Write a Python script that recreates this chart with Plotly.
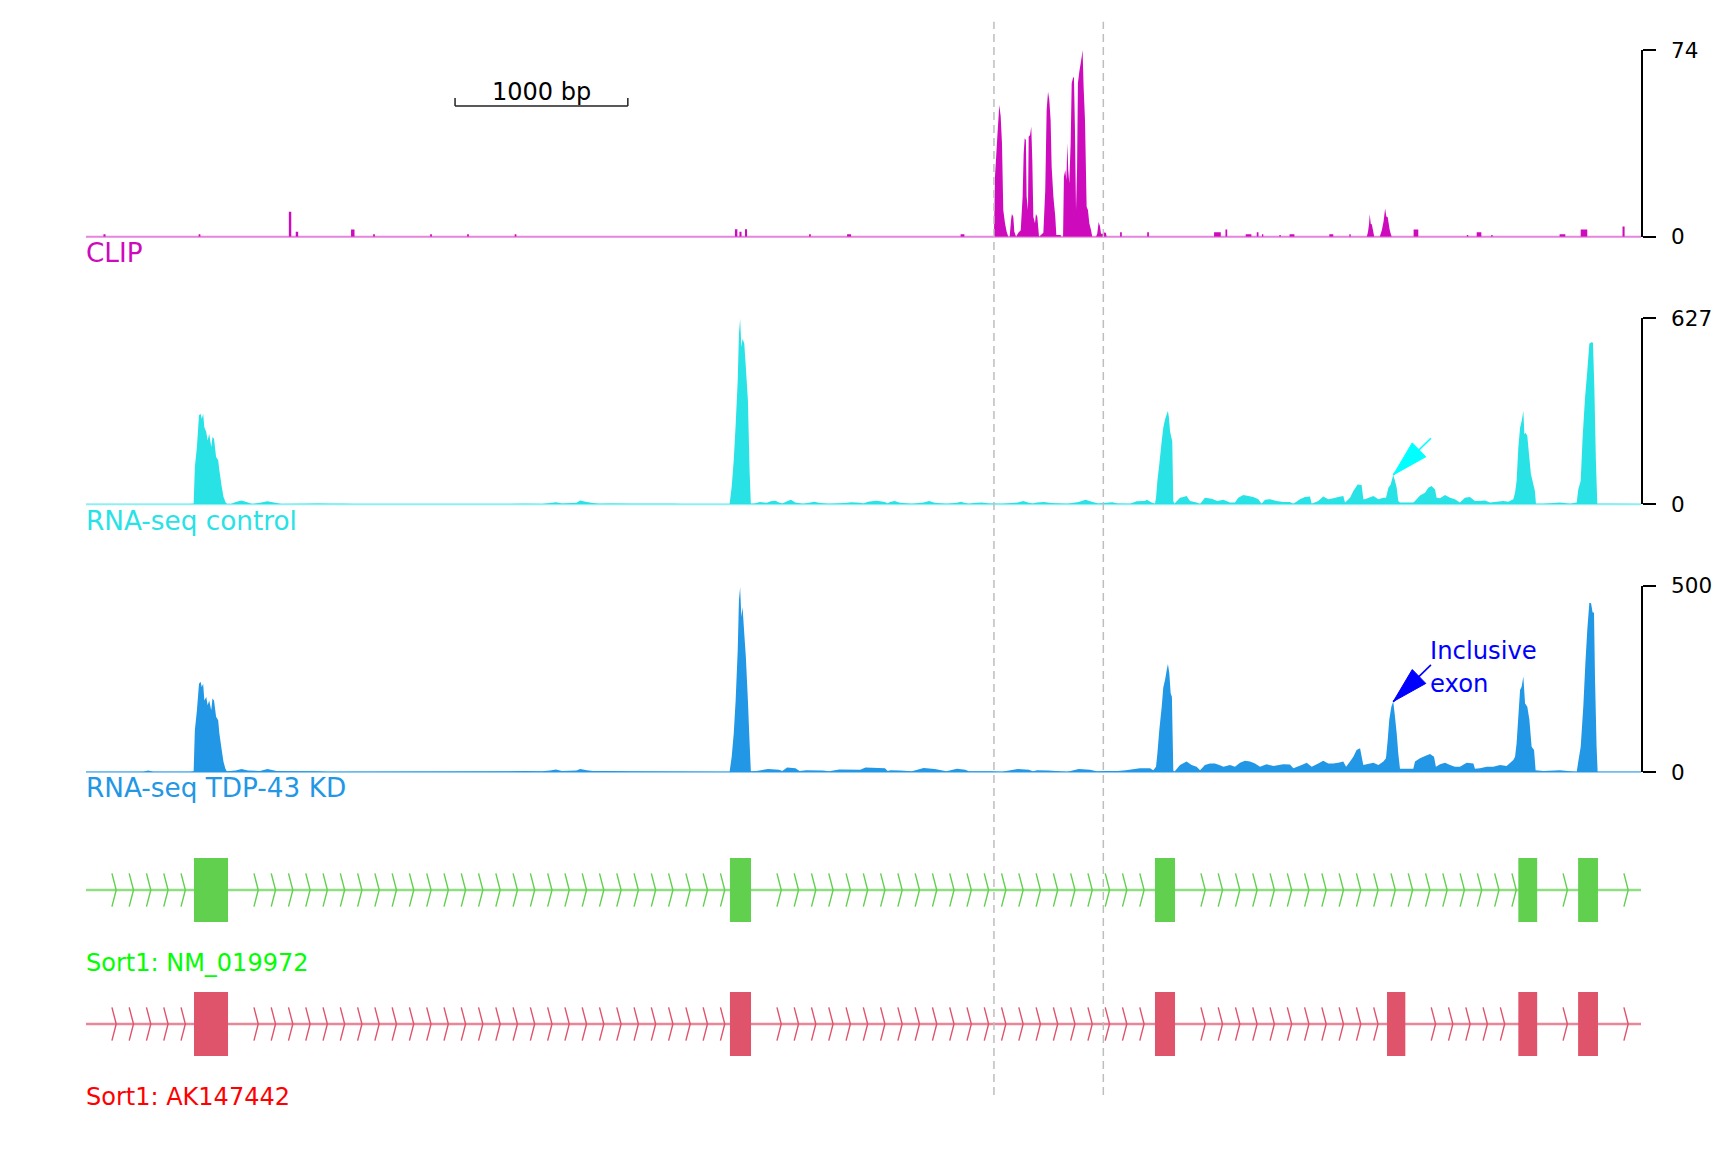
import math
import plotly.graph_objects as go

FONT = "DejaVu Sans"

# ---------------- data: genomic offset (bp) within the viewed window ----------------
region_start, region_end = 0, 9000

# CLIP: isolated small read stacks (start bp, end bp, coverage)
clip_blocks = [
    (101, 113, 1), (652, 662, 1), (1174, 1188, 9.9), (1214, 1228, 2), (1534, 1554, 2.9),
    (1662, 1672, 1), (1992, 2002, 1), (2206, 2216, 1), (2481, 2491, 1), (3756, 3770, 3),
    (3782, 3794, 2), (3814, 3826, 3), (4185, 4195, 1), (4405, 4428, 1), (5062, 5084, 1),
    (5985, 5995, 1.8), (6142, 6152, 1.8), (6529, 6568, 1.8), (6595, 6605, 2.9),
    (6712, 6745, 1), (6776, 6786, 1.8), (6806, 6814, 1), (6907, 6915, 0.7), (6966, 6994, 1),
    (7196, 7219, 1), (7312, 7320, 1), (7684, 7711, 2.9), (7992, 8000, 0.7), (8049, 8076, 1.8),
    (8133, 8141, 0.7), (8529, 8562, 1), (8651, 8689, 2.9), (8893, 8905, 4),
]
# CLIP: peak profiles (bp, coverage)
clip_peaks = [
    (5255, 0), (5261, 23.8), (5274.5, 39.6), (5286, 52.2), (5294, 47.6), (5301.5, 37),
    (5309, 10.6), (5319, 5.3), (5328.5, 2.0), (5338, 0),
    (5346, 0), (5354, 6.6), (5359, 9.0), (5367, 7.9), (5373, 2.0), (5383, 0),
    (5396, 1.6), (5410, 2.6), (5421, 15.9), (5427, 33), (5433, 39), (5440, 38.3), (5444, 15.9),
    (5452, 10.6), (5456, 39.6), (5464, 40.3), (5471, 43.6), (5477, 30.4), (5483, 7.9),
    (5492.5, 5.3), (5498, 9.0), (5506, 7.9), (5516, 0),
    (5541, 1.6), (5552, 18.5), (5560, 50.2), (5568, 57.5), (5575.5, 54.2), (5583, 46.2),
    (5589, 27.7), (5599, 15.9), (5610, 7.9), (5616, 0.7), (5641, 0.7), (5643, 0),
    (5655, 0), (5660, 23.8), (5668, 26.4), (5674, 22.5), (5680, 37), (5685, 26.4), (5691, 21.1),
    (5699, 37), (5705, 60.8), (5712, 62.8), (5718, 63.4), (5724, 42.3), (5730, 10.6),
    (5736, 26.4), (5741, 60.8), (5749, 65.4), (5757, 68.7), (5763, 71.3), (5768, 74),
    (5774, 59.4), (5782, 46.2), (5791.5, 11.9), (5799, 10.6), (5807, 5.3), (5817, 2.6), (5824, 0),
    (5846, 0), (5853, 1.3), (5861, 5.8), (5869, 4.0), (5874.5, 1.3), (5882, 1.1), (5892, 1.7),
    (5903, 1.6), (5907, 0),
    (7413, 0), (7420, 2), (7426, 5), (7430, 8.9), (7436, 5), (7442, 4.9), (7450, 2.2), (7456, 0),
    (7488, 0), (7500, 2.6), (7510, 6), (7519, 11.2), (7526, 8), (7534, 7.7), (7545, 3),
    (7551, 1.3), (7557, 0),
]

# RNA-seq control coverage (bp, reads)
control_cov = [
    (0, 1), (600, 1), (623, 2), (630, 126), (642, 193), (654, 300), (663, 305), (670, 288),
    (678, 305), (685, 260), (696, 244), (704, 215), (713, 238), (725, 193), (732, 227),
    (741, 221), (753, 159), (765, 148), (772, 114), (786, 58), (796, 25), (807, 8), (815, 1),
    (840, 1), (866, 8), (900, 13), (938, 6), (960, 1), (1007, 5), (1050, 10), (1103, 4),
    (1130, 1), (1279, 2), (1340, 3), (1410, 2), (1480, 2), (1551, 1), (2448, 1), (2540, 2),
    (2639, 1), (2686, 4), (2720, 7), (2755, 3), (2839, 5), (2860, 13), (2898, 8), (2934, 4),
    (2969, 2), (3039, 3), (3158, 2), (3392, 2), (3441, 1), (3700, 1),
    (3725, 1), (3737, 58), (3749, 148), (3760, 266), (3772, 417), (3779, 574), (3786, 625),
    (3793, 530), (3800, 558), (3810, 541), (3819, 462), (3831, 350), (3841, 109), (3848, 2),
    (3870, 3), (3900, 8), (3940, 5), (3963, 10), (3990, 12), (4011, 6), (4030, 3), (4058, 10),
    (4080, 15), (4105, 6), (4150, 2), (4185, 5), (4215, 9), (4248, 4), (4300, 2), (4393, 4),
    (4430, 7), (4480, 5), (4500, 3), (4526, 9), (4575, 12), (4624, 8), (4640, 3), (4653, 8),
    (4680, 11), (4711, 5), (4780, 2), (4848, 6), (4880, 11), (4912, 5), (4980, 2), (5041, 5),
    (5064, 9), (5087, 4), (5110, 2), (5137, 4), (5185, 6), (5232, 3), (5300, 2), (5393, 6),
    (5425, 11), (5457, 5), (5480, 3), (5504, 6), (5545, 8), (5585, 4), (5680, 2), (5745, 8),
    (5785, 15), (5826, 8), (5860, 3), (5906, 5), (5940, 7), (5970, 3),
    (6042, 2), (6081, 10), (6129, 11), (6139, 15), (6168, 6), (6187, 2),
    (6193, 22), (6201, 79), (6212, 135), (6226, 213), (6235, 258), (6245, 286), (6255, 303),
    (6262, 314), (6268, 292), (6274, 247), (6282, 224), (6287, 213), (6293, 11), (6299, 2),
    (6332, 22), (6351, 25), (6370, 28), (6390, 11), (6428, 6), (6448, 1),
    (6476, 22), (6515, 19), (6548, 11), (6583, 15), (6621, 6), (6650, 6),
    (6669, 22), (6698, 31), (6727, 28), (6756, 25), (6785, 17), (6804, 2),
    (6824, 15), (6853, 17), (6891, 11), (6930, 8), (6968, 8), (6988, 2),
    (7026, 17), (7055, 25), (7084, 26), (7094, 2), (7132, 11), (7161, 26), (7190, 17),
    (7219, 20), (7248, 25), (7277, 28), (7287, 6),
    (7316, 22), (7335, 45), (7360, 67), (7383, 65), (7393, 17),
    (7402, 17), (7451, 28), (7480, 17), (7509, 22),
    (7524, 22), (7538, 56), (7551, 67), (7566, 99), (7576, 79), (7586, 56), (7595, 11), (7605, 6),
    (7644, 6), (7682, 6),
    (7692, 11), (7721, 30), (7750, 39), (7769, 56), (7788, 62), (7808, 50), (7817, 22),
    (7837, 20), (7866, 31), (7895, 22), (7923, 17),
    (7952, 6), (7981, 22), (8010, 25), (8039, 11), (8058, 11), (8097, 13), (8126, 6),
    (8165, 9), (8203, 11), (8232, 9), (8261, 17),
    (8271, 39), (8280, 79), (8290, 191), (8300, 258), (8309, 280), (8319, 314), (8325, 236),
    (8332, 241), (8342, 230), (8352, 168), (8363, 101), (8377, 67), (8386, 45), (8392, 2),
    (8435, 2), (8531, 6), (8589, 2),
    (8628, 6), (8637, 50), (8651, 79), (8662, 224), (8676, 359), (8689, 449), (8701, 541),
    (8712, 546), (8722, 544), (8730, 393), (8739, 146), (8747, 2),
    (8800, 2), (9000, 1),
]

# RNA-seq TDP-43 knock-down coverage (bp, reads)
kd_cov = [
    (0, 1), (330, 1), (360, 4), (390, 1), (600, 1),
    (623, 2), (630, 112), (642, 166), (654, 237), (663, 242), (670, 228), (678, 237), (685, 192),
    (696, 201), (704, 179), (713, 192), (725, 166), (732, 197), (741, 192), (753, 148),
    (765, 139), (772, 103), (786, 58), (796, 27), (807, 9), (815, 2),
    (866, 4), (900, 8), (938, 4), (1007, 3), (1050, 8), (1103, 3), (1340, 2), (1400, 1),
    (2448, 2), (2540, 3), (2639, 2), (2686, 4), (2720, 7), (2755, 3), (2839, 4), (2860, 8),
    (2898, 5), (2934, 3), (3039, 3), (3158, 2), (3700, 1),
    (3725, 1), (3737, 40), (3749, 103), (3760, 192), (3772, 327), (3779, 461), (3786, 496),
    (3793, 416), (3800, 443), (3810, 371), (3819, 309), (3831, 192), (3841, 76), (3848, 2),
    (3880, 3), (3947, 8), (4011, 6), (4030, 3), (4058, 12), (4106, 10), (4130, 3), (4169, 5),
    (4265, 4), (4300, 2), (4360, 7), (4481, 6), (4512, 12), (4624, 10), (4640, 3), (4656, 5),
    (4711, 4), (4780, 2), (4848, 11), (4912, 8), (4980, 2), (5041, 9), (5089, 6), (5110, 2),
    (5137, 2), (5233, 2), (5300, 1), (5393, 8), (5457, 6), (5480, 2), (5506, 5), (5570, 4),
    (5680, 1), (5746, 8), (5810, 6), (5850, 2), (5906, 3), (5970, 3), (6019, 5), (6100, 10),
    (6158, 10), (6177, 5),
    (6193, 14), (6201, 50), (6212, 113), (6226, 175), (6235, 227), (6245, 247), (6255, 274),
    (6262, 290), (6270, 265), (6278, 211), (6285, 202), (6293, 5), (6299, 1),
    (6332, 19), (6370, 28), (6399, 19), (6428, 14), (6448, 5),
    (6476, 19), (6505, 23), (6534, 23), (6563, 18), (6583, 14), (6621, 19), (6650, 14),
    (6679, 25), (6708, 30), (6737, 28), (6766, 23), (6795, 14), (6833, 21), (6872, 16),
    (6930, 21), (6968, 20), (6988, 10), (7036, 19), (7065, 25), (7094, 14),
    (7132, 23), (7161, 30), (7190, 23), (7219, 23), (7248, 25), (7277, 28), (7293, 14),
    (7316, 28), (7335, 41), (7354, 59), (7374, 64), (7387, 32), (7393, 19),
    (7412, 21), (7451, 25), (7480, 19), (7509, 28),
    (7524, 37), (7534, 86), (7543, 140), (7555, 175), (7566, 189), (7576, 149), (7586, 104),
    (7595, 50), (7605, 9), (7644, 9), (7682, 9),
    (7692, 28), (7721, 37), (7750, 43), (7779, 48), (7802, 41), (7813, 14),
    (7837, 21), (7866, 25), (7895, 19), (7923, 14), (7952, 14), (7991, 25), (8030, 23),
    (8039, 9), (8068, 10), (8107, 14), (8145, 14), (8184, 19), (8222, 16), (8261, 32),
    (8271, 41), (8280, 77), (8290, 149), (8300, 220), (8309, 229), (8319, 256), (8329, 184),
    (8342, 175), (8354, 140), (8367, 68), (8381, 59), (8390, 5),
    (8435, 3), (8531, 5), (8589, 2),
    (8628, 1), (8637, 28), (8651, 68), (8666, 175), (8678, 292), (8689, 381), (8701, 454),
    (8711, 453), (8720, 428), (8728, 428), (8734, 247), (8743, 68), (8749, 1),
    (8800, 1), (9000, 1),
]

track_names = ["CLIP", "RNA-seq control", "RNA-seq TDP-43 KD"]
track_max = [74, 627, 500]

# transcripts (exon start / end, bp)
nm_exon_start = [625, 3727, 6187, 8290, 8636]
nm_exon_end = [822, 3849, 6303, 8399, 8751]
ak_exon_start = [625, 3727, 6187, 7530, 8290, 8636]
ak_exon_end = [822, 3849, 6303, 7636, 8399, 8751]
gene_labels = ["Sort1: NM_019972", "Sort1: AK147442"]

highlight_region = [5255, 5888]
scalebar_start, scalebar_len = 2136, 1000
inclusive_exon = [7530, 7636]

# ---------------- styling / layout ----------------
W, H = 1728, 1152
X_LEFT, X_RIGHT = 86, 1641
track_colors = ["#CD0BBC", "#28E2E5", "#2297E6"]
track_base_alpha = ["rgba(205,11,188,0.5)", "rgba(40,226,229,0.5)", "rgba(34,151,230,0.5)"]
track_px = [(50.0, 236.7), (318.2, 504.3), (585.7, 772.0)]  # (top = max, bottom = 0)
label_px = [253, 520.5, 787.5]
gene_box_px = [(858, 922), (992, 1056)]
gene_label_px = [963, 1097]
gene_colors = ["#61D04F", "#DF536B"]
gene_line_colors = ["rgba(97,208,79,0.7)", "rgba(223,83,107,0.7)"]
gene_text_colors = ["#00FF00", "#FF0000"]
arrow_colors = ["#00FFFF", "#0000FF"]


def pyf(px):
    return 1 - px / H


def pxf(px):
    return px / W


def clip_vertices():
    pts = list(clip_peaks)
    for s, e, v in clip_blocks:
        pts += [(s, 0), (s, v), (e, v), (e, 0)]
    pts.sort(key=lambda p: p[0])
    return [(region_start, 0)] + pts + [(region_end, 0)]


coverages = [clip_vertices(), control_cov, kd_cov]

fig = go.Figure()
layout = dict(
    width=W, height=H, margin=dict(l=0, r=0, t=0, b=0, pad=0, autoexpand=False),
    paper_bgcolor="white", plot_bgcolor="white", showlegend=False,
    font=dict(family=FONT),
)
shapes, annotations = [], []
xdom = [pxf(X_LEFT), pxf(X_RIGHT)]

for i in range(3):
    ax = "" if i == 0 else str(i + 1)
    xs = [p[0] for p in coverages[i]]
    ys = [p[1] for p in coverages[i]]
    fig.add_trace(go.Scatter(x=xs, y=ys, mode="none", fill="tozeroy",
                             fillcolor=track_colors[i], xaxis="x" + ax, yaxis="y" + ax,
                             hoverinfo="skip"))
    top, bot = track_px[i]
    layout["xaxis" + ax] = dict(domain=xdom, range=[region_start, region_end], visible=False,
                                anchor="y" + ax, fixedrange=True, automargin=False)
    layout["yaxis" + ax] = dict(
        domain=[pyf(bot), pyf(top)], range=[0, track_max[i]], anchor="x" + ax, side="right",
        showline=True, linecolor="black", linewidth=1.5, ticks="outside", ticklen=13,
        tickwidth=1.5, tickcolor="black", tickvals=[0, track_max[i]],
        ticktext=["0", str(track_max[i])], tickfont=dict(family=FONT, size=21.5, color="black"),
        ticklabelstandoff=11, showgrid=False, zeroline=False, fixedrange=True, automargin=False)
    # baseline
    shapes.append(dict(type="line", xref="x" + ax, yref="paper", x0=region_start, x1=region_end,
                       y0=pyf(bot), y1=pyf(bot), line=dict(color=track_base_alpha[i], width=2),
                       layer="above"))
    annotations.append(dict(text=track_names[i], xref="paper", yref="paper", x=pxf(X_LEFT - 2),
                            y=pyf(label_px[i]), xanchor="left", yanchor="middle", showarrow=False,
                            font=dict(family=FONT, size=26.3, color=track_colors[i])))

# gene models
genes = [(nm_exon_start, nm_exon_end), (ak_exon_start, ak_exon_end)]
for g, (es, ee) in enumerate(genes):
    n = str(4 + g)
    top, bot = gene_box_px[g]
    layout["xaxis" + n] = dict(domain=xdom, range=[region_start, region_end], visible=False,
                               anchor="y" + n, fixedrange=True, automargin=False)
    layout["yaxis" + n] = dict(domain=[pyf(bot), pyf(top)], range=[-1, 1], visible=False,
                               anchor="x" + n, fixedrange=True, automargin=False)
    fig.add_trace(go.Scatter(x=[region_start, region_end], y=[0, 0], mode="lines",
                             line=dict(color=gene_line_colors[g], width=2.5),
                             xaxis="x" + n, yaxis="y" + n, hoverinfo="skip"))
    # strand chevrons in introns
    cx, cy = [], []
    starts = [region_start] + ee
    ends = es + [region_end]
    for s, e in zip(starts, ends):
        p = s + 150
        while p + 30 < e:
            cx += [p, p + 25, p, None]
            cy += [0.52, 0, -0.52, None]
            p += 100
    fig.add_trace(go.Scatter(x=cx, y=cy, mode="lines", line=dict(color=gene_colors[g], width=1.4),
                             xaxis="x" + n, yaxis="y" + n, hoverinfo="skip"))
    for s, e in zip(es, ee):
        shapes.append(dict(type="rect", xref="x" + n, yref="y" + n, x0=s, x1=e, y0=-1, y1=1,
                           fillcolor=gene_colors[g], line=dict(width=0), layer="above"))
    annotations.append(dict(text=gene_labels[g], xref="paper", yref="paper", x=pxf(X_LEFT - 2),
                            y=pyf(gene_label_px[g]), xanchor="left", yanchor="middle",
                            showarrow=False, font=dict(family=FONT, size=24,
                                                       color=gene_text_colors[g])))

# highlighted CLIP region
for xv in highlight_region:
    shapes.append(dict(type="line", xref="x", yref="paper", x0=xv, x1=xv, y0=pyf(1095),
                       y1=pyf(21.7), line=dict(color="#BEBEBE", width=1.5, dash="8px,5px"),
                       layer="above"))

# scale bar
sb_y, sb_tick = 106, 98
for x0, x1, y0, y1 in [(scalebar_start, scalebar_start + scalebar_len, sb_y, sb_y),
                       (scalebar_start, scalebar_start, sb_y, sb_tick),
                       (scalebar_start + scalebar_len, scalebar_start + scalebar_len, sb_y, sb_tick)]:
    shapes.append(dict(type="line", xref="x", yref="paper", x0=x0, x1=x1, y0=pyf(y0), y1=pyf(y1),
                       line=dict(color="#222222", width=1.5)))
annotations.append(dict(text=f"{scalebar_len} bp", xref="x", yref="paper",
                        x=scalebar_start + scalebar_len / 2, y=pyf(91.5), xanchor="center",
                        yanchor="middle", showarrow=False,
                        font=dict(family=FONT, size=24, color="black")))

# arrows pointing at the inclusive exon peak (control and KD)
ang = math.atan2(36.7, 37.7)
ux, uy = math.cos(ang), math.sin(ang)
nx, ny = -uy, ux
arrow_len, head_len, head_half = 52.6, 36.0, 9.7
tail = (arrow_len * ux, arrow_len * uy)
bx, by = head_len * ux, head_len * uy
c1 = (bx + head_half * nx, by + head_half * ny)
c2 = (bx - head_half * nx, by - head_half * ny)
shaft_path = f"M0,0 L{tail[0]:.2f},{tail[1]:.2f}"
head_path = f"M0,0 L{c1[0]:.2f},{c1[1]:.2f} L{c2[0]:.2f},{c2[1]:.2f} Z"
for k, cov in enumerate([control_cov, kd_cov]):
    ax = str(k + 2)
    inside = [p for p in cov if inclusive_exon[0] <= p[0] <= inclusive_exon[1]]
    tip = max(inside, key=lambda p: p[1])
    common = dict(type="path", xref="x" + ax, yref="y" + ax, xsizemode="pixel",
                  ysizemode="pixel", xanchor=tip[0], yanchor=tip[1], layer="above")
    shapes.append(dict(path=shaft_path, line=dict(color=arrow_colors[k], width=1.6), **common))
    shapes.append(dict(path=head_path, fillcolor=arrow_colors[k],
                       line=dict(color=arrow_colors[k], width=1), **common))

annotations.append(dict(text="Inclusive", xref="paper", yref="paper", x=pxf(1428), y=pyf(650),
                        xanchor="left", yanchor="middle", showarrow=False,
                        font=dict(family=FONT, size=24.3, color="#0000FF")))
annotations.append(dict(text="exon", xref="paper", yref="paper", x=pxf(1428), y=pyf(683.5),
                        xanchor="left", yanchor="middle", showarrow=False,
                        font=dict(family=FONT, size=24.3, color="#0000FF")))

layout["shapes"] = shapes
layout["annotations"] = annotations
fig.update_layout(**layout)
fig.write_html("out.html", config={"displayModeBar": False})
